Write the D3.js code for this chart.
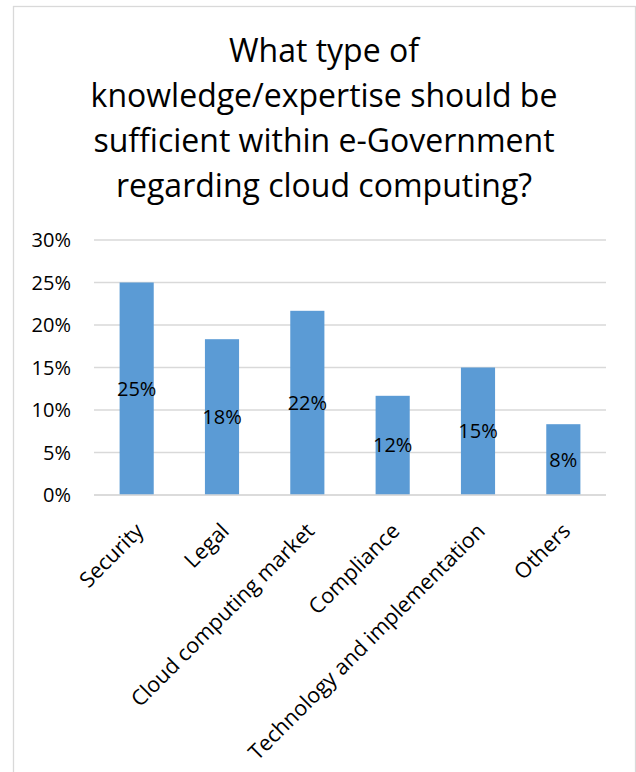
<!DOCTYPE html>
<html>
<head>
<meta charset="utf-8">
<script src="https://cdn.jsdelivr.net/npm/d3@7"></script>
<style>
  html, body { margin: 0; padding: 0; background: #fff; }
  svg { display: block; font-family: "Open Sans", "Noto Sans", sans-serif; }
</style>
</head>
<body>
<svg id="chart" width="636" height="772"></svg>
<script>
const titleLines = ["What type of", "knowledge/expertise should be", "sufficient within e-Government", "regarding cloud computing?"];
const categories = ["Security", "Legal", "Cloud computing market", "Compliance", "Technology and implementation", "Others"];
const values = [0.25, 0.1833, 0.2167, 0.1167, 0.15, 0.0833];
const yTicks = [0, 0.05, 0.10, 0.15, 0.20, 0.25, 0.30];

const svg = d3.select("#chart");
const textColor = "#000";

// chart border
svg.append("rect")
  .attr("x", 13.5).attr("y", 6.5)
  .attr("width", 622).attr("height", 800)
  .attr("fill", "#fff")
  .attr("stroke", "#d9d9d9").attr("stroke-width", 1.3);

// title
const title = svg.append("text")
  .attr("text-anchor", "middle")
  .attr("font-size", 32)
  .attr("fill", textColor);
titleLines.forEach((t, i) => {
  title.append("tspan").attr("x", 324).attr("y", 61.5 + i * 45).text(t);
});

const x = d3.scaleBand()
  .domain(categories)
  .range([94, 606])
  .paddingInner(0.6)
  .paddingOuter(0.3);

const y = d3.scaleLinear().domain([0, 0.30]).range([495, 240]);

// gridlines
svg.append("g").selectAll("line")
  .data(yTicks)
  .join("line")
  .attr("x1", 94).attr("x2", 606)
  .attr("y1", d => y(d)).attr("y2", d => y(d))
  .attr("stroke", "#d9d9d9").attr("stroke-width", 1.3);

// y axis labels
const fmt = d3.format(".0%");
svg.append("g").selectAll("text")
  .data(yTicks)
  .join("text")
  .attr("x", 71).attr("y", d => y(d))
  .attr("dy", "0.35em")
  .attr("text-anchor", "end")
  .attr("font-size", 20)
  .attr("fill", textColor)
  .text(d => fmt(d));

// bars
svg.append("g").selectAll("rect")
  .data(values)
  .join("rect")
  .attr("x", (d, i) => x(categories[i]))
  .attr("width", x.bandwidth())
  .attr("y", d => y(d))
  .attr("height", d => y(0) - y(d))
  .attr("fill", "#5b9bd5");

// redraw baseline axis over bars
svg.append("line")
  .attr("x1", 94).attr("x2", 606)
  .attr("y1", y(0)).attr("y2", y(0))
  .attr("stroke", "#d9d9d9").attr("stroke-width", 1.3);

// data labels
svg.append("g").selectAll("text")
  .data(values)
  .join("text")
  .attr("x", (d, i) => x(categories[i]) + x.bandwidth() / 2)
  .attr("y", d => (y(d) + y(0)) / 2)
  .attr("dy", "0.35em")
  .attr("text-anchor", "middle")
  .attr("font-size", 20)
  .attr("fill", textColor)
  .text(d => fmt(d));

// category labels
svg.append("g").selectAll("text")
  .data(categories)
  .join("text")
  .attr("transform", d => `translate(${x(d) + x.bandwidth() / 2 + 3},527) rotate(-45)`)
  .attr("dy", "0.35em")
  .attr("text-anchor", "end")
  .attr("font-size", 21.5)
  .attr("fill", textColor)
  .text(d => d);
</script>
</body>
</html>
